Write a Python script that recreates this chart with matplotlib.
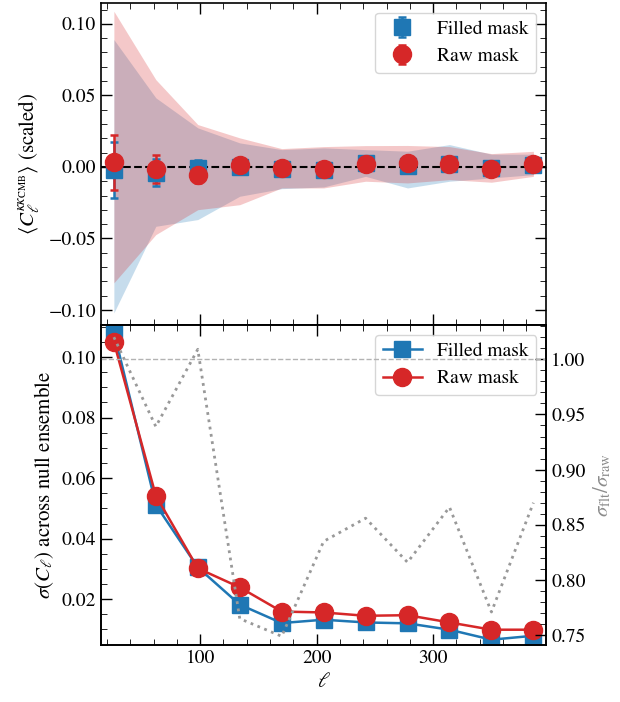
import numpy as np
import matplotlib.pyplot as plt
from matplotlib.ticker import MultipleLocator

plt.rcParams["font.family"] = ["STIXGeneral", "DejaVu Serif"]
plt.rcParams["mathtext.fontset"] = "stix"
plt.rcParams["font.size"] = 14
plt.rcParams["axes.labelsize"] = 15
plt.rcParams["xtick.direction"] = "in"
plt.rcParams["ytick.direction"] = "in"
plt.rcParams["xtick.top"] = True
plt.rcParams["ytick.right"] = True
plt.rcParams["xtick.major.size"] = 8
plt.rcParams["ytick.major.size"] = 8
plt.rcParams["xtick.minor.size"] = 4.5
plt.rcParams["ytick.minor.size"] = 4.5
plt.rcParams["xtick.major.width"] = 1.0
plt.rcParams["ytick.major.width"] = 1.0
plt.rcParams["axes.linewidth"] = 1.2

# bin centres
ell = [26, 62, 98, 134, 170, 206, 242, 278, 314, 350, 386]

# top panel: mean cross-spectrum (scaled) and error on the mean
mean_filled = [-0.0024, -0.0042, -0.0007, -0.0003, -0.0012, -0.0019, 0.0030, 0.0005, 0.0023, -0.0010, 0.0016]
mean_raw = [0.0032, -0.0014, -0.0054, 0.0011, -0.0007, -0.0012, 0.0023, 0.0028, 0.0021, -0.0012, 0.0021]
err_filled = [0.0196, 0.0094, 0.0056, 0.0033, 0.0022, 0.0024, 0.0023, 0.0022, 0.0018, 0.0012, 0.0014]
err_raw = [0.0193, 0.0099, 0.0055, 0.0044, 0.0029, 0.0029, 0.0027, 0.0027, 0.0023, 0.0018, 0.0018]

# ensemble spread bands
band_filled_lo = [-0.102, -0.0415, -0.0368, -0.0205, -0.0152, -0.0140, -0.0066, -0.0147, -0.0100, -0.0077, -0.0054]
band_filled_hi = [0.089, 0.0483, 0.0273, 0.0168, 0.0121, 0.0133, 0.0121, 0.0110, 0.0156, 0.0089, 0.0089]
band_raw_lo = [-0.081, -0.0473, -0.0299, -0.0264, -0.0147, -0.0147, -0.0100, -0.0112, -0.0089, -0.0107, -0.0066]
band_raw_hi = [0.1088, 0.0610, 0.0296, 0.0203, 0.0128, 0.0142, 0.0149, 0.0150, 0.0142, 0.0093, 0.0109]

# bottom panel: scatter across null ensemble
sigma_filled = [0.1084, 0.0512, 0.0305, 0.0182, 0.0121, 0.0132, 0.0123, 0.0120, 0.0099, 0.0066, 0.0079]
sigma_raw = [0.1050, 0.0542, 0.0302, 0.0239, 0.0159, 0.0156, 0.0145, 0.0147, 0.0123, 0.0099, 0.0099]
ratio = [1.020, 0.939, 1.009, 0.765, 0.749, 0.835, 0.856, 0.816, 0.866, 0.771, 0.870]

blue = "#1f77b4"
red = "#d62728"

fig = plt.figure(figsize=(6.2, 7.02), dpi=100)
ax1 = fig.add_axes([0.163, 0.537, 0.718, 0.459])
ax2 = fig.add_axes([0.163, 0.081, 0.718, 0.456], sharex=ax1)

# --- top panel ---
ax1.fill_between(ell, band_filled_lo, band_filled_hi, color=blue, alpha=0.25, lw=0)
ax1.fill_between(ell, band_raw_lo, band_raw_hi, color=red, alpha=0.25, lw=0)
ax1.axhline(0, color="k", ls="--", lw=1.5)
ax1.errorbar(ell, mean_filled, yerr=err_filled, fmt="s", color=blue, ms=12,
             capsize=3, elinewidth=1.8, capthick=1.8, label="Filled mask")
ax1.errorbar(ell, mean_raw, yerr=err_raw, fmt="o", color=red, ms=13,
             capsize=3, elinewidth=1.8, capthick=1.8, label="Raw mask")
ax1.set_ylim(-0.1105, 0.1147)
ax1.set_ylabel(r"$\langle C_\ell^{\kappa\kappa_{\rm CMB}}\rangle$ (scaled)")
ax1.yaxis.set_major_locator(MultipleLocator(0.05))
ax1.legend(loc="upper right", fontsize=14)
ax1.tick_params(labelbottom=False)

# --- bottom panel ---
ax2.plot(ell, sigma_filled, "-s", color=blue, ms=12, lw=1.8, label="Filled mask")
ax2.plot(ell, sigma_raw, "-o", color=red, ms=13, lw=1.8, label="Raw mask")
ax2.set_ylim(0.0048, 0.1106)
ax2.set_ylabel(r"$\sigma(C_\ell)$ across null ensemble")
ax2.set_xlabel(r"$\ell$")
ax2.yaxis.set_major_locator(MultipleLocator(0.02))
ax2.tick_params(axis="y", right=False, which="both")
ax2.legend(loc="upper right", fontsize=14)

axr = ax2.twinx()
axr.plot(ell, ratio, ":", color="0.6", lw=2)
axr.axhline(1.0, color="0.7", ls="--", lw=1)
axr.set_ylim(0.741, 1.031)
axr.set_ylabel(r"$\sigma_{\rm flt}/\sigma_{\rm raw}$", color="0.55")
axr.yaxis.set_major_locator(MultipleLocator(0.05))
axr.tick_params(axis="y", direction="in", which="both")

ax1.set_xlim(15, 397)
ax1.xaxis.set_major_locator(MultipleLocator(100))
for ax in (ax1, ax2, axr):
    ax.minorticks_on()
ax1.xaxis.set_minor_locator(MultipleLocator(20))
ax1.yaxis.set_minor_locator(MultipleLocator(0.01))
ax2.yaxis.set_minor_locator(MultipleLocator(0.005))
axr.yaxis.set_minor_locator(MultipleLocator(0.01))

fig.savefig("out.png", dpi=100)
